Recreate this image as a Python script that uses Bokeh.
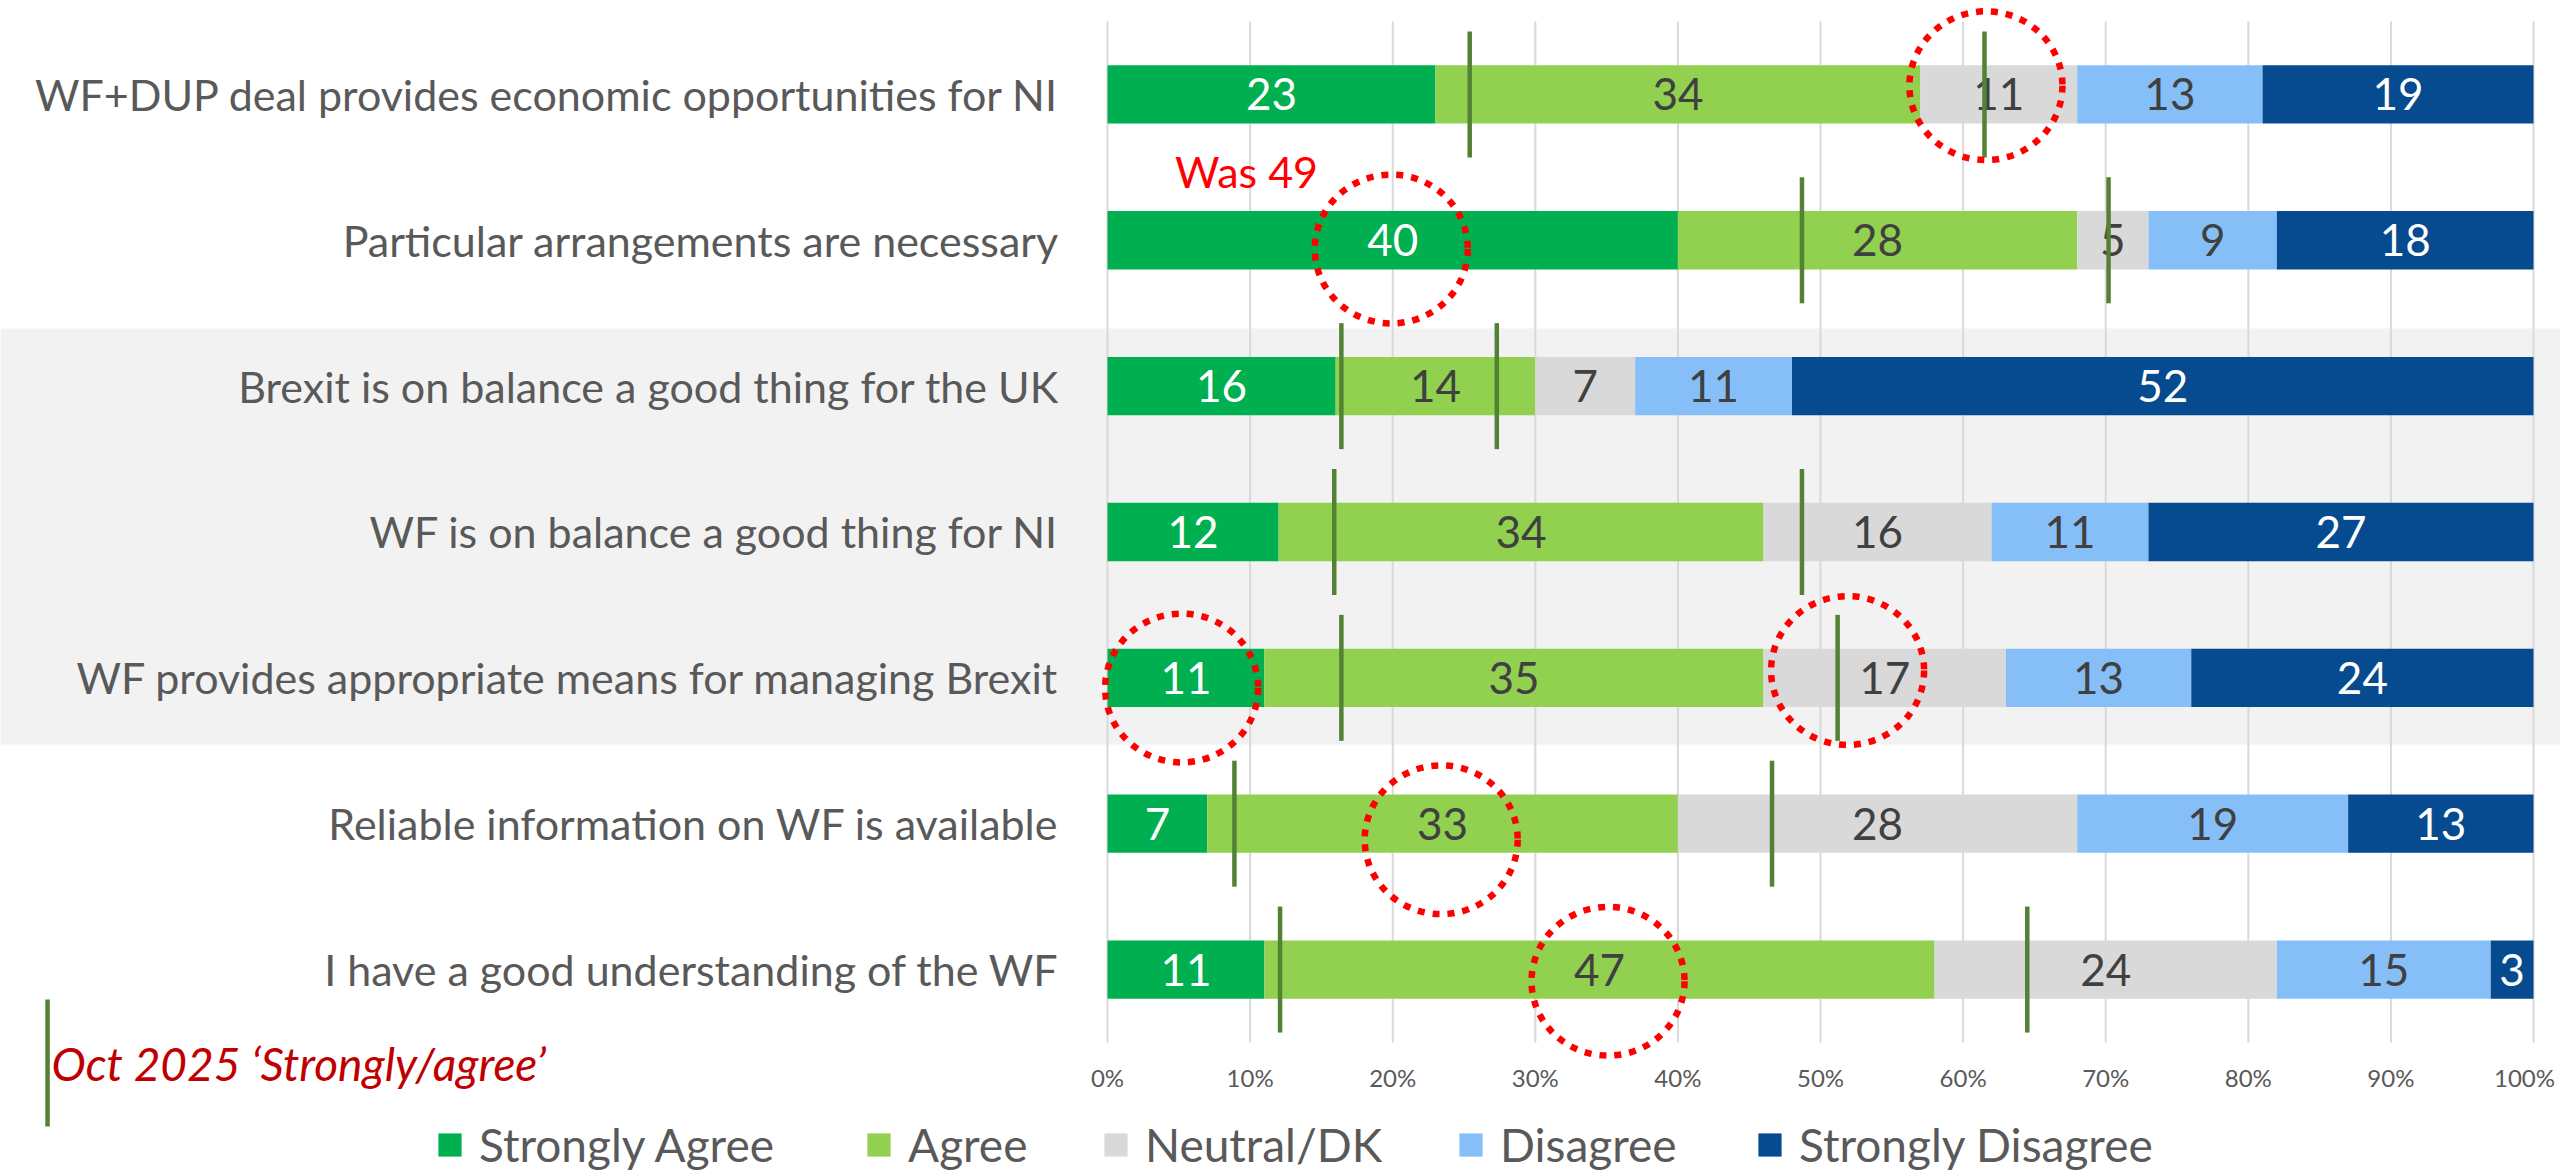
from bokeh.plotting import figure
from bokeh.models import Range1d, BoxAnnotation, Legend, LegendItem, ColumnDataSource
from bokeh.core.properties import value
from bokeh.embed import file_html
from bokeh.resources import INLINE

# ---------------- data ----------------
statements = [
    "WF+DUP deal provides economic opportunities for NI",
    "Particular arrangements are necessary",
    "Brexit is on balance a good thing for the UK",
    "WF is on balance a good thing for NI",
    "WF provides appropriate means for managing Brexit",
    "Reliable information on WF is available",
    "I have a good understanding of the WF",
]
strongly_agree = [23, 40, 16, 12, 11, 7, 11]
agree = [34, 28, 14, 34, 35, 33, 47]
neutral_dk = [11, 5, 7, 16, 17, 28, 24]
disagree = [13, 9, 11, 11, 13, 19, 15]
strongly_disagree = [19, 18, 52, 27, 24, 13, 3]
series_names = ["Strongly Agree", "Agree", "Neutral/DK", "Disagree", "Strongly Disagree"]
series_colors = ["#00B050", "#92D050", "#D9D9D9", "#86BFF7", "#064A8F"]
label_colors = ["#FFFFFF", "#404040", "#404040", "#404040", "#FFFFFF"]

# Oct 2025 markers: cumulative 'strongly agree' and 'strongly/agree' (%)
oct_strongly = [25.4, 48.7, 16.4, 15.9, 16.4, 8.9, 12.1]
oct_agree_total = [61.5, 70.2, 27.3, 48.7, 51.2, 46.6, 64.5]

tick_values = [0, 10, 20, 30, 40, 50, 60, 70, 80, 90, 100]
tick_labels = ["0%", "10%", "20%", "30%", "40%", "50%", "60%", "70%", "80%", "90%", "100%"]

# highlighted values (red dotted circles): row index and x centre (%)
circle_rows = [0, 1, 4, 4, 5, 6]
circle_x = [61.6, 19.9, 5.2, 51.9, 23.4, 35.1]
circle_dy = [0.06, -0.06, -0.07, 0.05, -0.11, -0.08]

note_text = "Oct 2025 \u2018Strongly/agree\u2019"
was_text = "Was 49"
shaded_rows = [2, 3, 4]

# ---------------- figure ----------------
FONT = "Lato"
n = len(statements)
ys = [n - 0.5 - k for k in range(n)]

p = figure(width=2560, height=1175,
           x_range=Range1d(-77.630, 101.893), y_range=Range1d(-0.912, 7.144),
           output_backend="svg", toolbar_location=None, min_border=0,
           x_axis_type=None, y_axis_type=None)
p.outline_line_color = None
p.background_fill_color = "white"
p.border_fill_color = "white"

# shaded band behind the middle three statements
band_top = ys[shaded_rows[0]] + 0.395
band_bottom = ys[shaded_rows[-1]] - 0.457
p.add_layout(BoxAnnotation(bottom=band_bottom, top=band_top, fill_color="#F2F2F2",
                           fill_alpha=1, line_color=None, level="underlay"))

# vertical gridlines
p.segment(x0=tick_values, y0=[0] * len(tick_values), x1=tick_values, y1=[n] * len(tick_values),
          line_color="#D9D9D9", line_width=2)

# stacked bars
src = ColumnDataSource(dict(y=ys, sa=strongly_agree, ag=agree, ne=neutral_dk,
                            di=disagree, sd=strongly_disagree))
keys = ["sa", "ag", "ne", "di", "sd"]
rends = p.hbar_stack(keys, y="y", height=0.4, color=series_colors, line_color=None, source=src)

# value labels
series = [strongly_agree, agree, neutral_dk, disagree, strongly_disagree]
lx, ly, lt, lc = [], [], [], []
for k in range(n):
    left = 0
    for s, vals in enumerate(series):
        v = vals[k]
        lx.append(left + v / 2)
        ly.append(ys[k])
        lt.append(str(v))
        lc.append(label_colors[s])
        left += v
p.text(x=lx, y=ly, text=lt, text_color=lc, text_align="center", text_baseline="middle",
       text_font=value(FONT), text_font_size="44px")

# category labels
p.text(x=[-3.4] * n, y=ys, text=statements, text_align="right", text_baseline="middle",
       text_color="#595959", text_font=value(FONT), text_font_size="43px")

# tick labels (last one nudged so it stays on the page)
tick_offsets = [0] * (len(tick_values) - 1) + [-9]
p.text(x=tick_values, y=[-0.24] * len(tick_values), text=tick_labels, x_offset=tick_offsets,
       text_align="center", text_baseline="middle", text_color="#595959",
       text_font=value(FONT), text_font_size="24px")

# Oct 2025 marker lines
half = 0.432
for vals in (oct_strongly, oct_agree_total):
    p.segment(x0=vals, y0=[y - half for y in ys], x1=vals, y1=[y + half for y in ys],
              line_color="#548235", line_width=4.5)

# red dotted circles
p.ellipse(x=circle_x, y=[ys[r] + d for r, d in zip(circle_rows, circle_dy)],
          width=10.73, height=1.02, fill_color=None, line_color="#FF0000",
          line_width=6.5, line_dash="7 8")

# "Was 49"
p.text(x=[9.75], y=[5.97], text=[was_text], text_align="center", text_baseline="middle",
       text_color="#FF0000", text_font=value(FONT), text_font_size="43px")

# note for marker lines
p.segment(x0=[-74.33], y0=[0.295], x1=[-74.33], y1=[-0.576], line_color="#548235", line_width=4.5)
p.text(x=[-74.05], y=[-0.144], text=[note_text], text_align="left", text_baseline="middle",
       text_color="#C00000", text_font=value(FONT), text_font_size="46px",
       text_font_style="italic")

# legend: one entry per series, placed like the reference
legend_x = [435, 864, 1101, 1456, 1755]
for nm, r, lxp in zip(series_names, rends, legend_x):
    lg = Legend(items=[LegendItem(label=nm, renderers=[r])],
                orientation="horizontal", location=(lxp, 3),
                label_text_font=FONT, label_text_font_size="46px", label_text_color="#595959",
                glyph_width=29, glyph_height=29, label_standoff=15,
                padding=0, margin=0, border_line_color=None, background_fill_alpha=0)
    p.add_layout(lg)

open("out.html", "w").write(file_html(p, INLINE))
